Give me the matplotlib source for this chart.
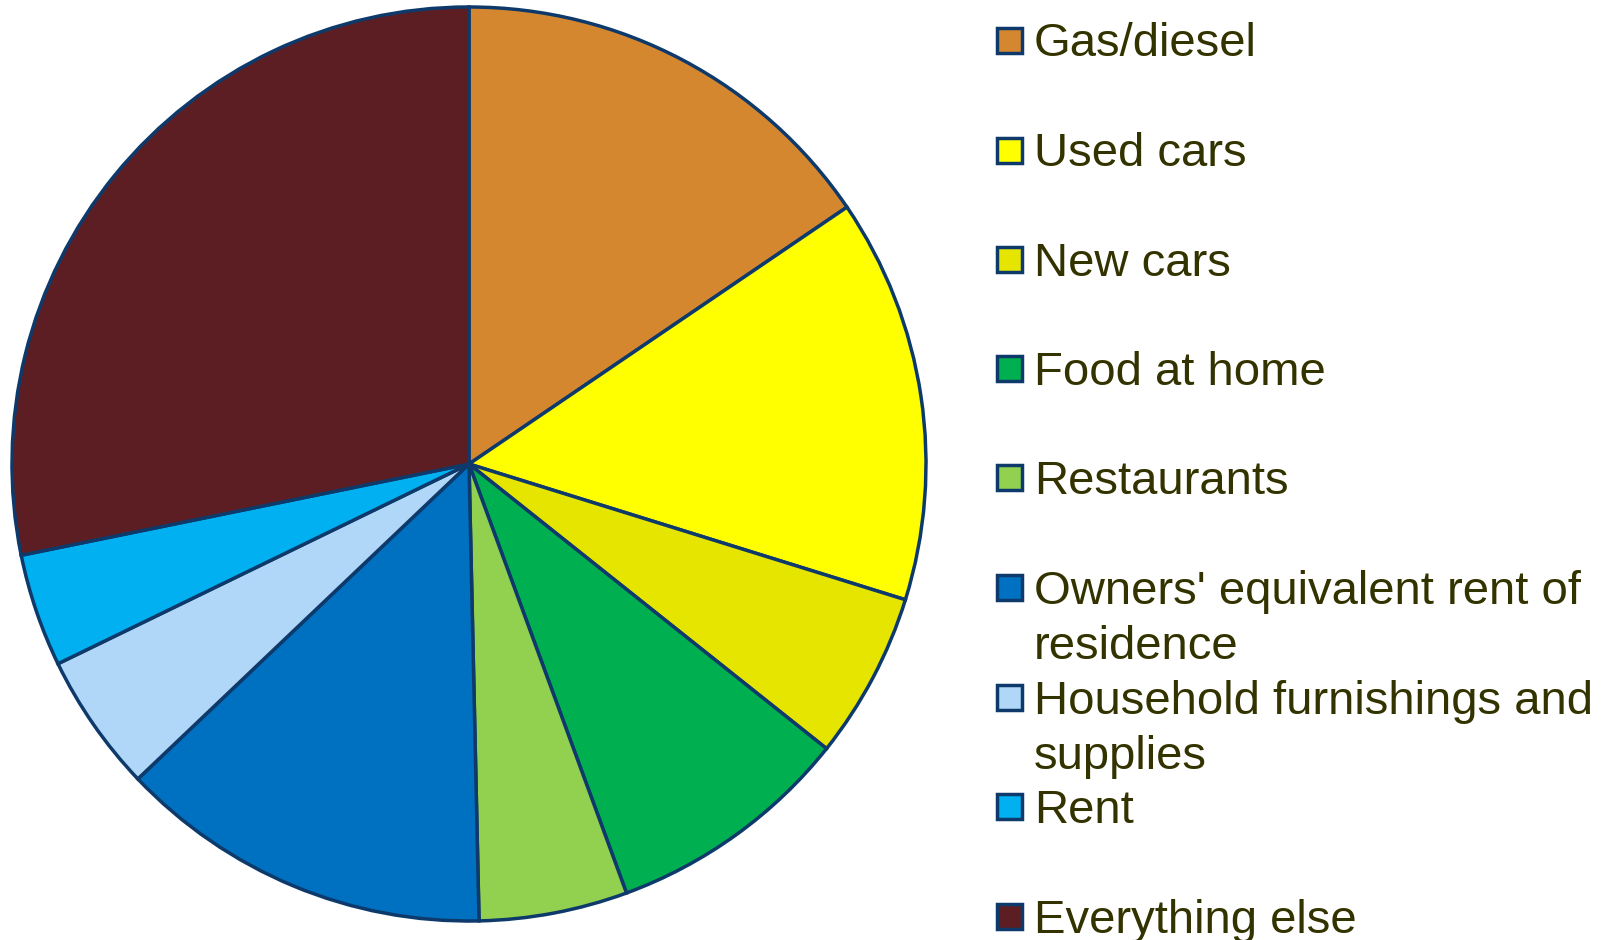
import matplotlib.pyplot as plt
from matplotlib.patches import Rectangle

# Data
categories = ['Gas/diesel', 'Used cars', 'New cars', 'Food at home', 'Restaurants',
              "Owners' equivalent rent of\nresidence", 'Household furnishings and\nsupplies',
              'Rent', 'Everything else']
shares = [15.5, 14.3, 5.9, 8.7, 5.25, 13.25, 4.9, 4.0, 28.2]
colors = ['#D58730', '#FFFF00', '#E5E500', '#00B050', '#92D050',
          '#0070C0', '#B0D6F8', '#00B0F0', '#5C1E22']

W, H = 1617, 940
edge = '#0E3A6B'
text_color = '#333300'

fig = plt.figure(figsize=(W / 100, H / 100), dpi=100)

# pie area: center (469, 464) px, radius 457 px
ax = fig.add_axes([12 / W, (H - 921) / H, 914 / W, 914 / H])
ax.pie(shares, colors=colors, startangle=90, counterclock=False, radius=1,
       wedgeprops=dict(edgecolor=edge, linewidth=2.5))
ax.set_xlim(-1.0, 1.0)
ax.set_ylim(-1.0, 1.0)
ax.set_aspect('equal')
ax.axis('off')

# legend, placed by hand like the original (Excel-style uneven rows)
row_y = [39.5, 149.5, 259, 368, 477, 587, 697, 806, 916]
line_gap = 55
for name, col, y in zip(categories, colors, row_y):
    fig.patches.append(Rectangle((997 / W, (H - y - 13) / H), 25 / W, 25 / H,
                                 transform=fig.transFigure, facecolor=col,
                                 edgecolor=edge, linewidth=2.5))
    for i, line in enumerate(name.split('\n')):
        fig.text(1034 / W, (H - y - i * line_gap) / H, line, fontsize=34,
                 family='Liberation Sans', color=text_color,
                 va='center_baseline', ha='left')

fig.savefig('out.png', dpi=100)
